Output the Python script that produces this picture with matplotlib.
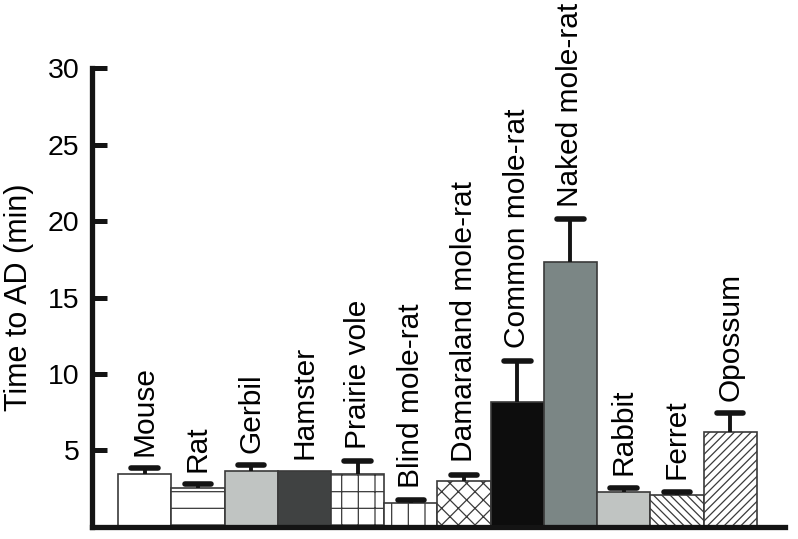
import numpy as np
import matplotlib
matplotlib.use("Agg")
import matplotlib.pyplot as plt

species = ["Mouse", "Rat", "Gerbil", "Hamster", "Prairie vole", "Blind mole-rat",
           "Damaraland mole-rat", "Common mole-rat", "Naked mole-rat",
           "Rabbit", "Ferret", "Opossum"]
means = [3.45, 2.55, 3.65, 3.65, 3.45, 1.6, 3.0, 8.2, 17.3, 2.3, 2.1, 6.2]
errs = [0.4, 0.25, 0.4, np.nan, 0.85, 0.15, 0.4, 2.65, 2.8, 0.25, 0.2, 1.25]

fills = ["white", "white", "#c0c4c2", "#404242", "white", "white",
         "white", "#0d0d0d", "#7b8685", "#c0c4c2", "white", "white"]
hatches = [None, "-", None, None, "+", "|", "xx", None, None, None, "\\\\\\\\", "////"]

plt.rcParams["font.family"] = ["Liberation Sans", "DejaVu Sans"]
plt.rcParams["hatch.linewidth"] = 0.9

fig = plt.figure(figsize=(7.98, 5.39), dpi=100)
ax = fig.add_axes([0.1153, 0.0223, 0.8684, 0.8515])

x = np.arange(len(species))
means = np.array(means)
errs = np.array(errs)
ax.bar(x, means, width=1.0, color=fills, edgecolor="#3a3a3a", linewidth=1.2,
       hatch=hatches, zorder=2)

# upper error bars only
has = ~np.isnan(errs)
ax.vlines(x[has], means[has], means[has] + errs[has], color="#141414",
          linewidth=2.8, zorder=3)
ax.hlines(means[has] + errs[has], x[has] - 0.25, x[has] + 0.25, color="#141414",
          linewidth=4.0, capstyle="round", zorder=3)

for xi, m, e, name in zip(x, means, errs, species):
    top = m + (0 if np.isnan(e) else e)
    ax.annotate(name, (xi, top), xytext=(0, 9), textcoords="offset points",
                rotation=90, ha="center", va="bottom", fontsize=21.5,
                annotation_clip=False)

ax.set_xlim(-0.99, 12.03)
ax.set_ylim(0, 30)
ax.set_yticks([5, 10, 15, 20, 25, 30])
ax.set_xticks([])
ax.tick_params(axis="y", direction="in", length=11, width=3.6, labelsize=20.5, pad=9)
ax.set_ylabel("Time to AD (min)", fontsize=22, labelpad=10)

for s in ["top", "right"]:
    ax.spines[s].set_visible(False)
for s in ["left", "bottom"]:
    ax.spines[s].set_linewidth(3.8)
    ax.spines[s].set_color("#141414")
ax.tick_params(axis="y", color="#141414")

fig.savefig("out.png", dpi=100)
